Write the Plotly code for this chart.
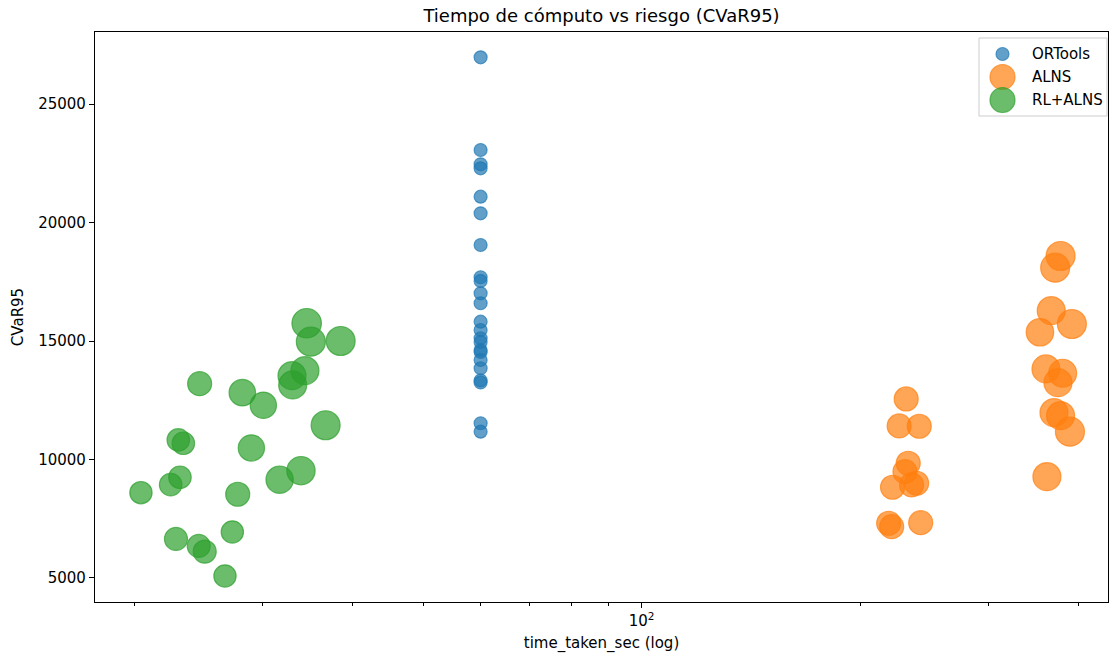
import math
import plotly.graph_objects as go

# ---------------- data ----------------
ort_time = [60.0] * 23
ort_cvar = [26970, 23059, 22456, 22287, 21089, 20389, 19051, 17689, 17533, 17013,
            16592, 15815, 15465, 15115, 14959, 14621, 14537, 14199, 13849, 13335,
            13250, 11529, 11174]

alns_time = [231.4, 226.3, 241.2, 232.9, 230.5, 239.2, 235.4, 221.6, 218.9, 221.0, 242.3,
             377.6, 371.2, 366.6, 353.7, 391.4, 360.5, 380.1, 374.5, 369.8, 377.6, 389.0, 361.6]
alns_cvar = [12554, 11415, 11402, 9841, 9487, 8997, 8926, 8829, 7310, 7166, 7335,
             18587, 18094, 16279, 15368, 15718, 13820, 13638, 13242, 11976, 11849, 11174, 9276]
alns_size = [24, 24, 24, 24, 24, 24, 24, 24, 24, 24, 24,
             29, 29, 28, 27.5, 29, 28, 28, 28, 28, 28, 29, 28]

rl_time = [34.56, 35.02, 38.49, 24.61, 28.18, 30.12, 32.99, 33.06, 34.37, 36.70,
           23.00, 23.37, 29.00, 23.12, 22.45, 20.43, 27.77, 31.72, 33.94, 22.83,
           27.30, 24.54, 25.01, 26.67]
rl_cvar = [15748, 14972, 15000, 13200, 12820, 12288, 13537, 13145, 13748, 11444,
           10824, 10685, 10487, 9250, 8938, 8601, 8533, 9149, 9529, 6647,
           6943, 6352, 6112, 5086]
rl_size = [29.5, 29, 29, 24, 26.5, 26.3, 28, 28, 28, 29,
           22.5, 22.5, 26.3, 22.5, 22.5, 22.3, 24, 27.3, 28.3, 23,
           22.3, 23, 23, 22.3]

series_names = ["ORTools", "ALNS", "RL+ALNS"]
ort_size = 13
legend_sizes = [13, 25, 25]

x_minor = [20, 30, 40, 50, 60, 70, 80, 90, 200, 300, 400]
y_ticks = [5000, 10000, 15000, 20000, 25000]

# ---------------- style ----------------
colors = ["rgba(31,119,180,0.7)", "rgba(255,127,14,0.7)", "rgba(44,160,44,0.7)"]
FONT = "DejaVu Sans"
W, H = 1110, 653
L, R, T, B = 95, 2, 32, 51

fig = go.Figure()
for name, xs, ys, sz, c in [
    (series_names[0], ort_time, ort_cvar, ort_size, colors[0]),
    (series_names[1], alns_time, alns_cvar, alns_size, colors[1]),
    (series_names[2], rl_time, rl_cvar, rl_size, colors[2]),
]:
    fig.add_trace(go.Scatter(
        x=xs, y=ys, mode="markers", name=name, showlegend=False,
        marker=dict(size=sz, color=c, opacity=1, line=dict(color=c, width=1.2)),
    ))

# custom legend (matplotlib style)
pw, ph = W - L - R, H - T - B
def px_x(p):
    return (p - L) / pw
def px_y(p):
    return (H - B - p) / ph

shapes = [dict(type="rect", xref="paper", yref="paper",
               x0=px_x(979), x1=px_x(1107), y0=px_y(116), y1=px_y(38),
               line=dict(color="rgba(204,204,204,1)", width=1),
               fillcolor="rgba(255,255,255,0.8)", layer="above")]
annotations = []
leg_y = [54, 77, 100]
for i, name in enumerate(series_names):
    r = legend_sizes[i] / 2
    shapes.append(dict(type="circle", xref="paper", yref="paper",
                       xsizemode="pixel", ysizemode="pixel",
                       xanchor=px_x(1002.5), yanchor=px_y(leg_y[i]),
                       x0=-r, x1=r, y0=-r, y1=r,
                       fillcolor=colors[i], line=dict(color=colors[i], width=1.2),
                       layer="above"))
    annotations.append(dict(xref="paper", yref="paper", x=px_x(1030), y=px_y(leg_y[i]),
                            xanchor="left", yanchor="middle", showarrow=False,
                            text=name, font=dict(family=FONT, size=15, color="black")))

fig.update_layout(
    width=W, height=H,
    margin=dict(l=L, r=R, t=T, b=B),
    plot_bgcolor="white", paper_bgcolor="white",
    font=dict(family=FONT, size=15, color="black"),
    title=dict(text="Tiempo de cómputo vs riesgo (CVaR95)", x=0.5, xref="paper",
               xanchor="center", y=1 - 16 / H, yref="container", yanchor="middle",
               font=dict(family=FONT, size=18, color="black")),
    shapes=shapes, annotations=annotations, showlegend=False,
)
fig.update_xaxes(
    type="log", range=[math.log10(17.66), math.log10(438.9)],
    tickvals=[100], ticktext=["10<sup>2</sup>"],
    ticks="outside", ticklen=5, tickwidth=1.2, tickcolor="black",
    minor=dict(tickvals=x_minor, ticks="outside", ticklen=3, tickwidth=1.2, tickcolor="black", showgrid=False),
    showgrid=False, zeroline=False, showline=True, linecolor="black", linewidth=1.2, mirror=True,
    title=dict(text="time_taken_sec (log)", standoff=8, font=dict(family=FONT, size=15)),
)
fig.update_yaxes(
    range=[3987, 28038], tickvals=y_ticks, ticktext=[str(v) for v in y_ticks],
    ticks="outside", ticklen=5, tickwidth=1.2, tickcolor="black",
    showgrid=False, zeroline=False, showline=True, linecolor="black", linewidth=1.2, mirror=True,
    title=dict(text="CVaR95", standoff=10, font=dict(family=FONT, size=15)),
)
fig.write_html("out.html")
